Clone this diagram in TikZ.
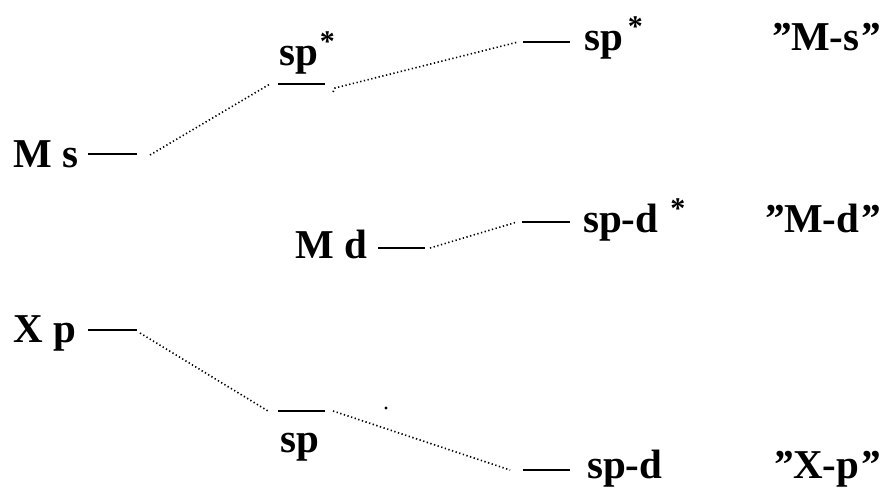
\documentclass[tikz,border=0pt]{standalone}
\usepackage{fontspec}
\usepackage{graphicx}
\setmainfont{Liberation Serif}
% raised antibonding star, optional gap before it
\newcommand{\antib}[1][2pt]{\hspace{#1}\raisebox{14pt}{\fontsize{30}{30}\selectfont *}}
\newcommand{\qt}{{\itshape "}}
\begin{document}
\begin{tikzpicture}[x=1pt,y=-1pt,
  lbl/.style={font=\fontsize{41}{41}\selectfont\bfseries, inner sep=0pt, anchor=base west},
  tag/.style={lbl, anchor=base east},
  lvl/.style={line width=2.2pt},
  link/.style={line width=1.6pt, dash pattern=on 1.3pt off 2.5pt}]
\useasboundingbox (0,0) rectangle (891,490);

% energy levels (left end, right end)
\coordinate (ms1) at (88,154);  \coordinate (ms2) at (137,154);
\coordinate (ss1) at (278,84);  \coordinate (ss2) at (325,84);
\coordinate (rs1) at (523,42);  \coordinate (rs2) at (570,42);
\coordinate (md1) at (378,248); \coordinate (md2) at (425,248);
\coordinate (rd1) at (522,222); \coordinate (rd2) at (570,222);
\coordinate (xp1) at (88,330);  \coordinate (xp2) at (137,330);
\coordinate (sp1) at (278,411); \coordinate (sp2) at (325,411);
\coordinate (rp1) at (523,470); \coordinate (rp2) at (570,470);

\foreach \a/\b in {ms1/ms2, ss1/ss2, rs1/rs2, md1/md2, rd1/rd2, xp1/xp2, sp1/sp2, rp1/rp2}
  \draw[lvl] (\a) -- (\b);

% correlation lines
\draw[link] ([xshift=13pt,yshift=-1pt]ms2) -- ([xshift=-8pt]ss1);
\draw[link] ([xshift=8pt,yshift=-8pt]ss2) -- ([xshift=10pt,yshift=-4pt]ss2) -- ([xshift=-5pt]rs1);
\draw[link] ([xshift=5pt]md2) -- ([xshift=-5pt]rd1);
\draw[link] ([xshift=3pt,yshift=-3pt]xp2) -- ([xshift=-10pt]sp1);
\draw[link] ([xshift=8pt]sp2) -- ([xshift=-13pt]rp1);

% labels
\node[lbl] (tms) at (13,167) {M s};
\node[lbl] (tss) at (279,65) {sp\antib};
\node[lbl] (trs) at (584,50) {sp\antib[5pt]};
\node[tag] (tqs) at (880,50) {\qt M-s\qt};
\node[lbl] (tmd) at (295,258) {M d};
\node[lbl] (trd) at (583,232) {sp-d\antib[12pt]};
\node[tag] (tqd) at (880,232) {\qt M-d\qt};
\node[lbl] (txp) at (13,342) {X p};
\node[lbl] (tsp) at (280,452) {sp};
\node[lbl] (trp) at (587,478) {sp-d};
\node[tag] (tqp) at (880,478) {\qt X-p\qt};

\fill (386,408) circle (1.7pt);
\end{tikzpicture}
\end{document}
